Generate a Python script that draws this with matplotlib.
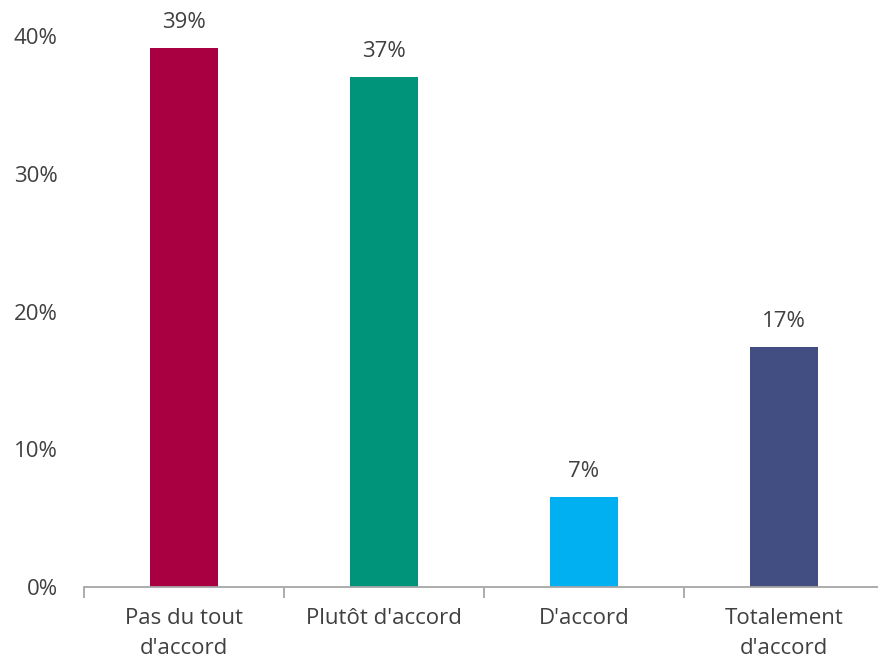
import matplotlib
matplotlib.use('Agg')
import matplotlib.pyplot as plt
from matplotlib.ticker import FuncFormatter

categories = ["Pas du tout\nd'accord", "Plutôt d'accord", "D'accord", "Totalement\nd'accord"]
values = [39.1, 37.0, 6.5, 17.4]
labels = ['39%', '37%', '7%', '17%']
colors = ['#A90042', '#00957A', '#00B0F0', '#424E82']

plt.rcParams['font.family'] = ['Open Sans', 'DejaVu Sans']
txt = '#404040'
fs = 16

fig = plt.figure(figsize=(8.79, 6.65), dpi=100)
ax = fig.add_axes([84/879, 78/665, 800/879, 551/665])

x = range(len(categories))
ax.bar(x, values, width=0.34, color=colors)
for i, v in enumerate(values):
    ax.text(i, v + 1.1, labels[i], ha='center', va='bottom', fontsize=fs, color=txt, clip_on=False)

ax.set_xlim(-0.5, 3.5)
ax.set_ylim(0, 40)
ax.set_yticks([0, 10, 20, 30, 40])
ax.yaxis.set_major_formatter(FuncFormatter(lambda v, p: f'{v:.0f}%'))
ax.tick_params(axis='y', length=0, labelsize=fs, labelcolor=txt, pad=19)

ax.set_xticks([-0.5, 0.5, 1.5, 2.5, 3.5])
ax.set_xticklabels([])
ax.set_xticks(list(x), minor=True)
ax.set_xticklabels(categories, minor=True, linespacing=1.55)
ax.tick_params(axis='x', which='major', length=8, width=1.3, color='#A6A6A6', direction='out')
ax.tick_params(axis='x', which='minor', length=0, labelsize=fs, labelcolor=txt, pad=15)

for s in ['top', 'right', 'left']:
    ax.spines[s].set_visible(False)
ax.spines['bottom'].set_color('#A6A6A6')
ax.spines['bottom'].set_linewidth(1.3)

fig.savefig('out.png', dpi=100)
